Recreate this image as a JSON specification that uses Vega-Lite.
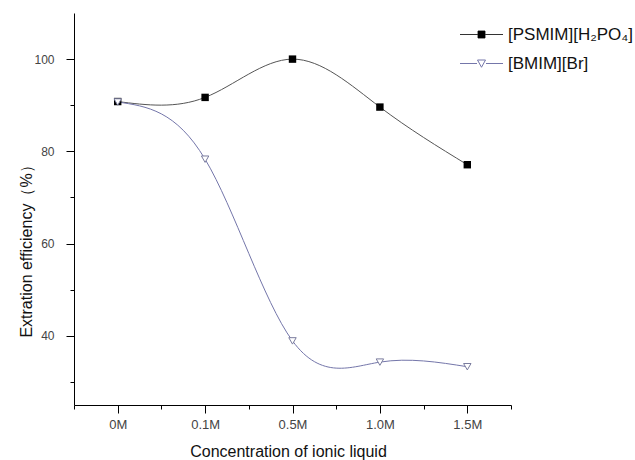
{
  "$schema": "https://vega.github.io/schema/vega-lite/v6.json",
  "width": 437,
  "height": 392,
  "autosize": {"type": "none"},
  "padding": {"left": 74, "top": 13, "right": 124, "bottom": 55},
  "background": "white",
  "config": {
    "view": {"stroke": null},
    "font": "Liberation Sans",
    "axis": {"grid": false, "domainColor": "#000", "tickColor": "#000", "labelColor": "#444", "labelFont": "Liberation Sans", "titleFont": "Liberation Sans", "titleFontWeight": "normal", "titleColor": "#111"},
    "legend": {"labelFontSize": 17, "labelColor": "#111", "labelFont": "Liberation Sans", "padding": 0, "labelOffset": 18, "symbolOpacity": 1, "symbolStrokeWidth": 1}
  },
  "data": {
    "values": [
      {"series": "[PSMIM][H₂PO₄]", "idx": 0, "conc": "0M", "value": 90.8},
      {"series": "[PSMIM][H₂PO₄]", "idx": 1, "conc": "0.1M", "value": 91.7},
      {"series": "[PSMIM][H₂PO₄]", "idx": 2, "conc": "0.5M", "value": 100.0},
      {"series": "[PSMIM][H₂PO₄]", "idx": 3, "conc": "1.0M", "value": 89.6},
      {"series": "[PSMIM][H₂PO₄]", "idx": 4, "conc": "1.5M", "value": 77.1},
      {"series": "[BMIM][Br]", "idx": 0, "conc": "0M", "value": 90.7},
      {"series": "[BMIM][Br]", "idx": 1, "conc": "0.1M", "value": 78.3},
      {"series": "[BMIM][Br]", "idx": 2, "conc": "0.5M", "value": 38.9},
      {"series": "[BMIM][Br]", "idx": 3, "conc": "1.0M", "value": 34.3},
      {"series": "[BMIM][Br]", "idx": 4, "conc": "1.5M", "value": 33.3}
    ]
  },
  "encoding": {
    "x": {
      "field": "idx", "type": "quantitative",
      "scale": {"domain": [-0.5, 4.5], "nice": false, "zero": false},
      "axis": {
        "title": "Concentration of ionic liquid",
        "titleFontSize": 16,
        "titleX": 214, "titleY": 46, "titleBaseline": "middle", "titleAlign": "center",
        "values": [-0.5, 0, 0.5, 1, 1.5, 2, 2.5, 3, 3.5, 4, 4.5],
        "labelExpr": "datum.value == 0 ? '0M' : datum.value == 1 ? '0.1M' : datum.value == 2 ? '0.5M' : datum.value == 3 ? '1.0M' : datum.value == 4 ? '1.5M' : ''",
        "tickSize": {"condition": {"test": "datum.value % 1 == 0", "value": 8}, "value": 4},
        "labelPadding": 5,
        "labelFontSize": 13,
        "labelFlush": false,
        "labelOverlap": false
      }
    },
    "y": {
      "field": "value", "type": "quantitative",
      "scale": {"domain": [25, 110], "nice": false, "zero": false},
      "axis": {
        "title": "Extration efficiency（%）",
        "titleFontSize": 16,
        "titleX": -48, "titleY": 234, "titleBaseline": "middle", "titleAlign": "center",
        "values": [30, 40, 50, 60, 70, 80, 90, 100],
        "labelExpr": "datum.value % 20 == 0 ? datum.label : ''",
        "tickSize": {"condition": {"test": "datum.value % 20 == 0", "value": 8}, "value": 4},
        "labelPadding": 12,
        "labelFontSize": 12,
        "labelOverlap": false
      }
    }
  },
  "resolve": {"scale": {"shape": "independent"}, "legend": {"shape": "independent"}},
  "layer": [
    {
      "mark": {"type": "line", "interpolate": "natural", "strokeWidth": 1},
      "encoding": {
        "color": {
          "field": "series", "type": "nominal",
          "scale": {"domain": ["[PSMIM][H₂PO₄]", "[BMIM][Br]"], "range": ["#555555", "#7476aa"]},
          "legend": null
        }
      }
    },
    {
      "transform": [{"filter": "datum.series == '[PSMIM][H₂PO₄]'"}],
      "mark": {"type": "point", "shape": "square", "filled": true, "color": "#000", "opacity": 1, "size": 55}
    },
    {
      "transform": [{"filter": "datum.series == '[BMIM][Br]'"}],
      "mark": {"type": "point", "shape": "triangle-down", "filled": false, "fill": "#fff", "stroke": "#7a7c9e", "strokeWidth": 1, "opacity": 1, "size": 55}
    },
    {
      "transform": [{"filter": "false"}],
      "mark": {"type": "point", "size": 100, "strokeWidth": 1, "opacity": 1, "filled": false, "color": "#333"},
      "encoding": {
        "shape": {
          "field": "series", "type": "nominal",
          "scale": {"domain": ["[PSMIM][H₂PO₄]"], "range": ["M-4.3,0H-0.7M-0.7,-0.7H0.7V0.7H-0.7ZM0.7,0H4.3"]},
          "legend": {"title": null, "orient": "none", "legendX": 399, "legendY": 13}
        }
      }
    },
    {
      "transform": [{"filter": "false"}],
      "mark": {"type": "point", "size": 100, "opacity": 1, "filled": true, "color": "#000"},
      "encoding": {
        "shape": {
          "field": "series", "type": "nominal",
          "scale": {"domain": ["[PSMIM][H₂PO₄]"], "range": ["M-0.7,-0.7H0.7V0.7H-0.7Z"]},
          "legend": {"title": null, "orient": "none", "legendX": 399, "legendY": 13, "labelOpacity": 0}
        }
      }
    },
    {
      "transform": [{"filter": "false"}],
      "mark": {"type": "point", "size": 100, "strokeWidth": 1, "opacity": 1, "filled": false, "color": "#7476aa"},
      "encoding": {
        "shape": {
          "field": "series", "type": "nominal",
          "scale": {"domain": ["[BMIM][Br]"], "range": ["M-4.3,0H-0.9M-0.8,-0.7L0.8,-0.7L0,0.75ZM0.9,0H4.3"]},
          "legend": {"title": null, "orient": "none", "legendX": 399, "legendY": 42}
        }
      }
    }
  ]
}
